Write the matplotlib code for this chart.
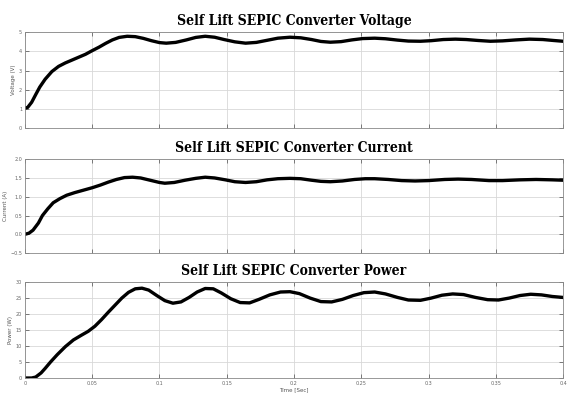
import matplotlib.pyplot as plt

# voltage trace (time in s, volts)
t_volt = [0.000, 0.002, 0.005, 0.008, 0.011, 0.015, 0.020, 0.025, 0.030, 0.035,
          0.040, 0.045, 0.050, 0.055, 0.060, 0.065, 0.070, 0.076, 0.082, 0.088,
          0.094, 0.100, 0.105, 0.112, 0.120, 0.127, 0.134, 0.141, 0.148, 0.156,
          0.164, 0.172, 0.180, 0.188, 0.197, 0.205, 0.213, 0.220, 0.227, 0.235,
          0.243, 0.251, 0.260, 0.268, 0.277, 0.285, 0.294, 0.302, 0.311, 0.320,
          0.328, 0.337, 0.346, 0.355, 0.365, 0.375, 0.385, 0.393, 0.400]
volt = [1.04, 1.08, 1.35, 1.75, 2.14, 2.55, 2.95, 3.22, 3.40, 3.55,
        3.70, 3.85, 4.04, 4.22, 4.42, 4.60, 4.73, 4.79, 4.77, 4.68,
        4.56, 4.46, 4.43, 4.47, 4.60, 4.73, 4.79, 4.74, 4.62, 4.50,
        4.43, 4.47, 4.58, 4.69, 4.74, 4.71, 4.62, 4.52, 4.48, 4.51,
        4.60, 4.67, 4.69, 4.66, 4.59, 4.54, 4.53, 4.56, 4.62, 4.64,
        4.62, 4.57, 4.53, 4.55, 4.60, 4.64, 4.62, 4.57, 4.53]

# current trace (time in s, amps)
t_curr = [0.000, 0.003, 0.006, 0.010, 0.013, 0.017, 0.021, 0.026, 0.031, 0.037,
          0.043, 0.050, 0.056, 0.062, 0.068, 0.074, 0.080, 0.086, 0.093, 0.100,
          0.104, 0.111, 0.119, 0.127, 0.134, 0.141, 0.149, 0.156, 0.164, 0.172,
          0.180, 0.188, 0.197, 0.205, 0.213, 0.220, 0.227, 0.236, 0.245, 0.253,
          0.260, 0.270, 0.280, 0.290, 0.300, 0.312, 0.322, 0.332, 0.345, 0.355,
          0.368, 0.380, 0.392, 0.400]
curr = [0.00, 0.03, 0.11, 0.30, 0.50, 0.68, 0.84, 0.95, 1.04, 1.11,
        1.17, 1.24, 1.31, 1.39, 1.46, 1.51, 1.52, 1.50, 1.44, 1.38,
        1.36, 1.38, 1.44, 1.49, 1.52, 1.50, 1.45, 1.40, 1.38, 1.40,
        1.45, 1.48, 1.49, 1.48, 1.44, 1.41, 1.40, 1.42, 1.46, 1.48,
        1.48, 1.46, 1.43, 1.42, 1.43, 1.46, 1.47, 1.46, 1.43, 1.43,
        1.45, 1.46, 1.45, 1.44]

# power trace (time in s, watts)
t_pow = [0.000, 0.005, 0.008, 0.012, 0.015, 0.019, 0.024, 0.030, 0.036, 0.042,
         0.047, 0.052, 0.057, 0.062, 0.067, 0.072, 0.077, 0.082, 0.087, 0.092,
         0.098, 0.104, 0.110, 0.116, 0.122, 0.128, 0.134, 0.140, 0.146, 0.153,
         0.160, 0.167, 0.174, 0.182, 0.190, 0.197, 0.204, 0.212, 0.220, 0.228,
         0.236, 0.244, 0.252, 0.260, 0.268, 0.277, 0.285, 0.294, 0.302, 0.310,
         0.318, 0.326, 0.335, 0.344, 0.352, 0.360, 0.368, 0.376, 0.384, 0.392,
         0.400]
power = [0.0, 0.0, 0.3, 1.6, 3.0, 5.0, 7.3, 9.8, 11.9, 13.4,
         14.6, 16.2, 18.3, 20.6, 22.8, 25.0, 26.8, 27.9, 28.1, 27.5,
         25.8, 24.2, 23.4, 23.8, 25.2, 26.9, 28.0, 27.9, 26.6, 24.8,
         23.6, 23.5, 24.6, 26.0, 26.9, 27.0, 26.4, 25.0, 23.9, 23.8,
         24.6, 25.8, 26.7, 26.9, 26.3, 25.2, 24.4, 24.3, 25.0, 25.9,
         26.3, 26.1, 25.2, 24.5, 24.4, 25.0, 25.8, 26.2, 26.0, 25.5,
         25.2]

x_ticks = [0, 0.05, 0.1, 0.15, 0.2, 0.25, 0.3, 0.35, 0.4]
x_labels = ['0', '0.05', '0.1', '0.15', '0.2', '0.25', '0.3', '0.35', '0.4']

fig = plt.figure(figsize=(5.67, 4.03), dpi=100)

panels = [
    # (rect, t, y, title, ylabel, ylim, yticks)
    ([0.044, 0.682, 0.949, 0.238], t_volt, volt,
     'Self Lift SEPIC Converter Voltage', 'Voltage (V)', (0, 5), [0, 1, 2, 3, 4, 5]),
    ([0.044, 0.372, 0.949, 0.233], t_curr, curr,
     'Self Lift SEPIC Converter Current', 'Current (A)', (-0.5, 2), [-0.5, 0, 0.5, 1, 1.5, 2]),
    ([0.044, 0.062, 0.949, 0.238], t_pow, power,
     'Self Lift SEPIC Converter Power', 'Power (W)', (0, 30), [0, 5, 10, 15, 20, 25, 30]),
]

for i, (rect, t, y, title, ylab, ylim, yticks) in enumerate(panels):
    ax = fig.add_axes(rect)
    ax.plot(t, y, color='black', linewidth=2.4)
    ax.set_xlim(0, 0.4)
    ax.set_ylim(*ylim)
    ax.set_xticks(x_ticks)
    ax.set_yticks(yticks)
    ax.grid(True, color='#d8d8d8', linewidth=0.6)
    ax.tick_params(direction='in', top=True, right=True, length=3,
                   width=0.6, labelsize=3.5, pad=2, colors='#666666')
    if i == 2:
        ax.set_xticklabels(x_labels)
        ax.set_xlabel('Time [Sec]', fontsize=4, color='#555555', labelpad=1)
    else:
        ax.set_xticklabels([])
    ax.set_ylabel(ylab, fontsize=4, color='#555555', labelpad=2)
    for s in ax.spines.values():
        s.set_color('#888888')
        s.set_linewidth(0.6)
    ax.set_title(title, fontsize=10, fontweight='bold', family='DejaVu Serif',
                 fontstretch='condensed', pad=5)

plt.savefig('out.png', dpi=100)
